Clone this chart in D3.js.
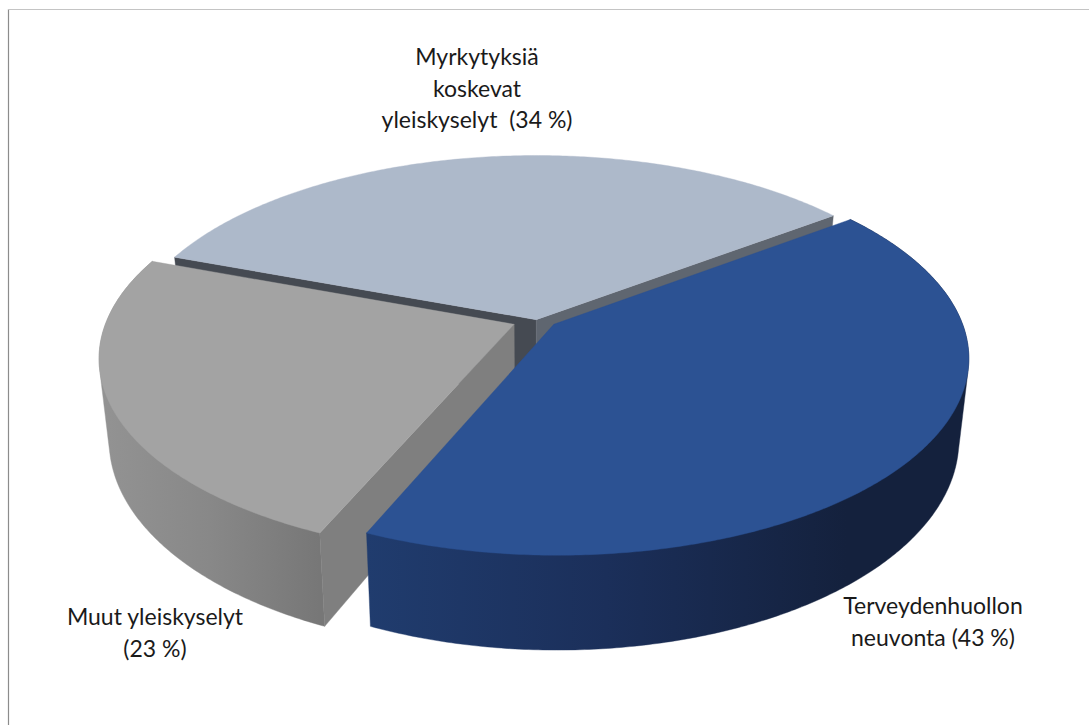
<!DOCTYPE html>
<html><head><meta charset="utf-8">
<script src="https://cdn.jsdelivr.net/npm/d3@7/dist/d3.min.js"></script>
<style>html,body{margin:0;padding:0;background:#fff}svg{display:block}text{font-family:Lato,"Open Sans",sans-serif;fill:#1a1a1a;white-space:pre}</style>
</head><body><script>
const categories = ["Terveydenhuollon neuvonta","Muut yleiskyselyt","Myrkytyksiä koskevat yleiskyselyt"];
const values = [43,23,34];
const labelLines = [["Terveydenhuollon","neuvonta (43 %)"],["Muut yleiskyselyt","(23 %)"],["Myrkytyksiä","koskevat","yleiskyselyt  (34 %)"]];
const topColors = ["#2c5293","#a3a3a3","#adb9ca"];
const sideStops = [["#203c6e","#1b2f5a","#14213d"],["#939393","#888888","#777777"]];
const explode = [[0.046,0.012],[-0.051,0.012],[0.003,-0.012]];
const labelPos = [[933,606],[155,617],[477,57]];

const W=1089,H=725,cx=535,cy=322,Rx=408,Ry=192,p=0.165,D=79,shrink=0.977;
const svg=d3.select("body").append("svg").attr("width",W).attr("height",H);
svg.append("line").attr("x1",8.5).attr("x2",8.5).attr("y1",9).attr("y2",H).attr("stroke","#8c8c8c").attr("stroke-width",1.2);
svg.append("line").attr("x1",8).attr("x2",W).attr("y1",9.5).attr("y2",9.5).attr("stroke","#c4c4c4").attr("stroke-width",1.2);

const rad=Math.PI/180;
const pie=d3.pie().sort(null).startAngle(51*rad).endAngle(411*rad);
const arcs=pie(values);
// the reference's perspective squeezes the front slice: screen angle differs slightly from data angle
const warp=d3.scaleLinear().domain([51,205.8,288.6,411].map(d=>d*rad)).range([53.3,203.3,290.2,413.3].map(d=>d*rad));
const scaleX=d3.scaleLinear().domain([-1,1]).range([-Rx,Rx]);
const scaleY=d3.scaleLinear().domain([-1,1]).range([-Ry,Ry]);
function proj(u,v,bottom){
  const w=1/(1-p*v);
  let x=scaleX(u)*w, y=scaleY(v)*w;
  if(bottom){x*=shrink;y+=D*w;}
  return [cx+x,cy+y];
}
const line=d3.line();
const pt=(a,off,bottom)=>proj(Math.sin(warp(a))+off[0],-Math.cos(warp(a))+off[1],bottom);
function rim(a0,a1,off,bottom){
  const n=Math.max(2,Math.ceil((a1-a0)/0.01));
  return d3.range(n+1).map(i=>pt(a0+(a1-a0)*i/n,off,bottom));
}
const defs=svg.append("defs");
function grad(id,stops,x0,x1){
  const g=defs.append("linearGradient").attr("id",id).attr("gradientUnits","userSpaceOnUse").attr("x1",x0).attr("x2",x1).attr("y1",0).attr("y2",0);
  stops.forEach((c,i)=>g.append("stop").attr("offset",i/(stops.length-1)).attr("stop-color",c));
}
function face(pts,fill){svg.append("path").attr("d",line(pts)+"Z").attr("fill",fill).attr("stroke",fill).attr("stroke-width",0.4);}
function radial(a,off,fill){
  const A=proj(off[0],off[1],false),A2=proj(off[0],off[1],true);
  face([A,pt(a,off,false),pt(a,off,true),A2],fill);
}
const [blue,gray,lb]=arcs;
radial(lb.startAngle,explode[2],"#454a52");
radial(lb.endAngle,explode[2],"#5f6670");
face([proj(explode[2][0],explode[2][1],false),...rim(lb.startAngle,lb.endAngle,explode[2],false)],topColors[2]);
{
  const top=rim(gray.startAngle,gray.endAngle,explode[1],false),bot=rim(gray.startAngle,gray.endAngle,explode[1],true);
  grad("gGray",sideStops[1],d3.min(top,d=>d[0]),d3.max(top,d=>d[0]));
  face(d3.polygonHull([...top,...bot]),"url(#gGray)");
  radial(gray.startAngle,explode[1],"#7f7f7f");
  face([proj(explode[1][0],explode[1][1],false),...top],topColors[1]);
}
{
  const top=rim(blue.startAngle,blue.endAngle,explode[0],false),bot=rim(blue.startAngle,blue.endAngle,explode[0],true);
  grad("gBlue",sideStops[0],d3.min(top,d=>d[0]),d3.min(top,d=>d[0])+480);
  face(d3.polygonHull([...top,...bot]),"url(#gBlue)");
  face([proj(explode[0][0],explode[0][1],false),...top],topColors[0]);
}
labelLines.forEach((ls,i)=>{
  const t=svg.append("text").attr("text-anchor","middle").attr("font-size",23);
  ls.forEach((s,j)=>t.append("tspan").attr("x",labelPos[i][0]).attr("y",labelPos[i][1]+j*31.5).attr("dy","0.35em").text(s));
});
</script></body></html>
